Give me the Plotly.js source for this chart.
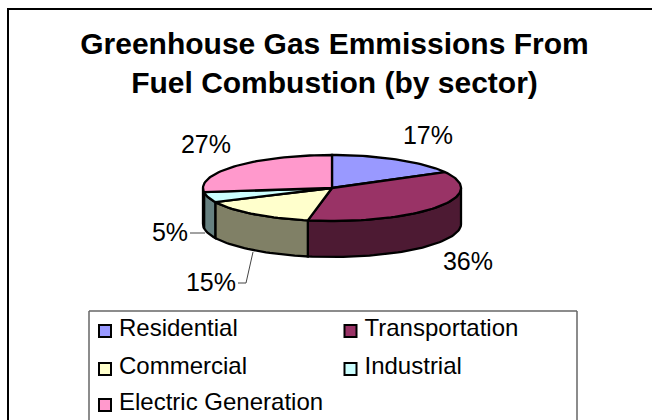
<!DOCTYPE html>
<html><head><meta charset="utf-8">
<script src="https://cdn.plot.ly/plotly-3.0.1.min.js"></script>
<style>html,body{margin:0;padding:0;background:#fff}</style></head>
<body><div id="chart" style="width:652px;height:420px"></div>
<script>
const sectors = ["Residential","Transportation","Commercial","Industrial","Electric Generation"];
const shares = [17,36,15,5,27];
const topColors = ["#9999FF","#993366","#FFFFCC","#CCFFFF","#FF99CC"];
const sideColors = ["#4D4D80","#4D1A33","#808066","#668080","#804D66"];
const labelText = ["17%","36%","15%","5%","27%"];
const labelX = [428,468,211,170,206];
const labelY = [138,264,285,235,147];
const legendX = [105,350.5,105,350.5,105];
const legendY = [331,331,369,369,405];

const cx=332, cy=188, rx=129, ry=33, depth=36;
const pt=(deg,dz)=>{const a=deg*Math.PI/180;return [cx+rx*Math.sin(a),cy-ry*Math.cos(a)+(dz||0)];};
const arc=(a,b,dz)=>{const n=Math.max(2,Math.ceil(Math.abs(b-a)/2)),o=[];for(let i=0;i<=n;i++)o.push(pt(a+(b-a)*i/n,dz));return o;};
const poly=(pts,color,lw)=>({x:pts.map(p=>p[0]),y:pts.map(p=>p[1]),mode:'lines',fill:'toself',fillcolor:color,
  line:{color:'#000',width:lw},hoverinfo:'skip',showlegend:false,type:'scatter'});
const traces=[];
let acc=0; const spans=shares.map(s=>{const r=[acc,acc+s*3.6];acc+=s*3.6;return r;});
spans.forEach((sp,i)=>{const a=Math.max(sp[0],90),b=Math.min(sp[1],270);if(b>a){
  const front=arc(a,b,0),back=arc(b,a,depth);
  traces.push(poly(front.concat(back,[front[0]]),sideColors[i],2.3));}});
spans.forEach((sp,i)=>{const e=arc(sp[0],sp[1],0);
  traces.push(poly([[cx,cy]].concat(e,[[cx,cy]]),topColors[i],2.3));});
const lead=(xs,ys)=>({x:xs,y:ys,mode:'lines',line:{color:'#444',width:1},hoverinfo:'skip',showlegend:false,type:'scatter'});
traces.push(lead([190,205],[233,233]));
traces.push(lead([238,246,253],[283,283,252]));
traces.push({x:labelX,y:labelY,mode:'text',text:labelText,textposition:'middle center',
  textfont:{family:'Liberation Sans',size:25,color:'#000'},hoverinfo:'skip',showlegend:false,type:'scatter'});
traces.push({x:legendX,y:legendY,mode:'markers',marker:{symbol:'square',size:12,color:topColors,line:{color:'#000',width:2}},
  hoverinfo:'skip',showlegend:false,type:'scatter'});
traces.push({x:legendX.map(v=>v+14),y:legendY.map(v=>v-1),mode:'text',text:sectors,textposition:'middle right',
  textfont:{family:'Liberation Sans',size:24,color:'#000'},hoverinfo:'skip',showlegend:false,type:'scatter'});
Plotly.newPlot('chart',traces,{
  width:652,height:420,margin:{l:0,r:0,t:0,b:0,autoexpand:false},paper_bgcolor:'#fff',plot_bgcolor:'#fff',
  xaxis:{range:[0,652],visible:false,fixedrange:true},
  yaxis:{range:[420,0],visible:false,fixedrange:true},
  title:{text:'Greenhouse Gas Emmissions From<br>Fuel Combustion (by sector)',x:0.513,xanchor:'center',y:0.872,yanchor:'middle',
    font:{family:'Liberation Sans',size:30,color:'#000',weight:'bold'}},
  shapes:[
    {type:'line',xref:'x',yref:'y',x0:8,x1:8,y0:9,y1:420,line:{color:'#000',width:2},layer:'below'},
    {type:'line',xref:'x',yref:'y',x0:7,x1:652,y0:9,y1:9,line:{color:'#000',width:2},layer:'below'},
    {type:'line',xref:'x',yref:'y',x0:89,x1:577,y0:311,y1:311,line:{color:'#666',width:1.5},layer:'below'},
    {type:'line',xref:'x',yref:'y',x0:89,x1:89,y0:311,y1:420,line:{color:'#666',width:1.5},layer:'below'},
    {type:'line',xref:'x',yref:'y',x0:577,x1:577,y0:311,y1:420,line:{color:'#666',width:1.5},layer:'below'}
  ]
},{displayModeBar:false,staticPlot:true});
</script></body></html>
